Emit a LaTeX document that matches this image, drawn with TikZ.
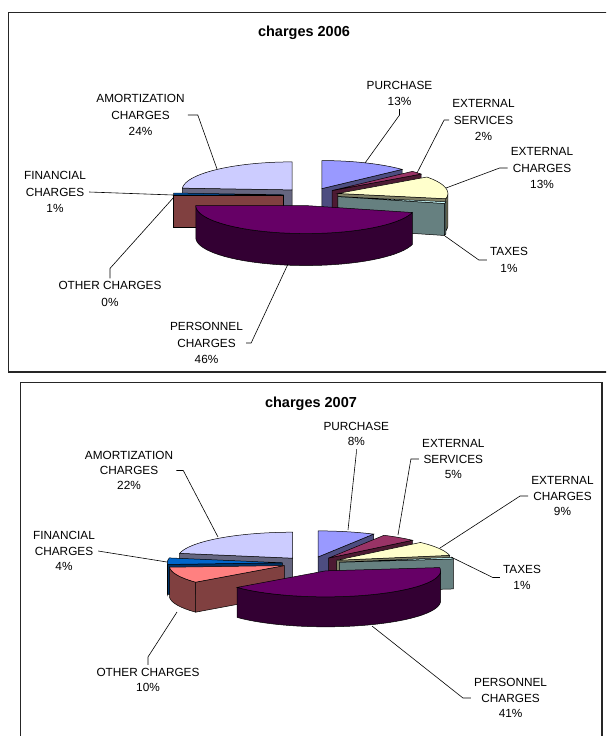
\documentclass[tikz,border=0pt]{standalone}
\usepackage{fontspec}
\setmainfont{Liberation Sans}

\definecolor{purch}{HTML}{9999FF}\definecolor{purchside}{HTML}{4D4D80}
\definecolor{servi}{HTML}{993366}\definecolor{serviside}{HTML}{4D1A33}
\definecolor{extch}{HTML}{FFFFCC}\definecolor{extchside}{HTML}{808066}
\definecolor{taxes}{HTML}{CCFFFF}\definecolor{taxesside}{HTML}{668080}
\definecolor{perso}{HTML}{660066}\definecolor{persoside}{HTML}{330033}
\definecolor{other}{HTML}{FF8080}\definecolor{otherside}{HTML}{804040}
\definecolor{finan}{HTML}{0066CC}\definecolor{finanside}{HTML}{003366}
\definecolor{amort}{HTML}{CCCCFF}\definecolor{amortside}{HTML}{666680}

\tikzset{
  lbl/.style={align=center,inner sep=3pt,font=\fontsize{11.8}{16.3}\selectfont},
  leader/.style={line width=.6pt},
  ttl/.style={font=\bfseries\fontsize{14.5}{17}\selectfont},
  chartframe/.style={line width=1.2pt,draw=black!85},
}

% #1 start angle, #2 end angle (clockwise from top), #3 explosion, #4 top, #5 side
\newcommand{\chargeslice}[5]{%
  \pgfmathsetmacro\slm{(#1+#2)/2}%
  \pgfmathsetmacro\slx{\pcx+#3*\prx*sin(\slm)}%
  \pgfmathsetmacro\sly{\pcy-#3*\pry*cos(\slm)}%
  \pgfmathsetmacro\wla{max(#1,90)}%
  \pgfmathsetmacro\wlb{min(#2,270)}%
  \ifdim #1pt>180pt
    \filldraw[fill=#5] (\slx,\sly) -- ({\slx+\prx*sin(#1)},{\sly-\pry*cos(#1)}) -- ++(0,\pdep) -- (\slx,{\sly+\pdep}) -- cycle; %start face
  \fi
  \ifdim #2pt<180pt
    \filldraw[fill=#5] (\slx,\sly) -- ({\slx+\prx*sin(#2)},{\sly-\pry*cos(#2)}) -- ++(0,\pdep) -- (\slx,{\sly+\pdep}) -- cycle; %end face
  \fi
  \ifdim \wla pt<\wlb pt
    \filldraw[fill=#5] plot[domain=\wla:\wlb,samples=40] ({\slx+\prx*sin(\x)},{\sly-\pry*cos(\x)})
      -- plot[domain=\wlb:\wla,samples=40] ({\slx+\prx*sin(\x)},{\sly+\pdep-\pry*cos(\x)}) -- cycle; %wall
  \fi
  \ifdim #1pt<#2pt
    \filldraw[fill=#4] (\slx,\sly) -- plot[domain=#1:#2,samples=40] ({\slx+\prx*sin(\x)},{\sly-\pry*cos(\x)}) -- cycle; %top
  \fi
}

\begin{document}
\begin{tikzpicture}
[x=1pt,y=-1pt,line width=.5pt]
\useasboundingbox (0,0) rectangle (606,736);
\clip (0,0) rectangle (606,736);
\fill[white] (0,0) rectangle (606,736);

% charges 2006
\draw[chartframe] (8.5,12.5) rectangle (620,372);
\node[ttl] (tit06) at (304,33) {charges 2006};

\def\pcx{311}\def\pcy{195}\def\prx{110}\def\pry{28}\def\pdep{32}
\chargeslice{273.6}{360}{.25}{amort}{amortside}
\chargeslice{0}{46.8}{.25}{purch}{purchside}
\chargeslice{46.8}{54}{.25}{servi}{serviside}
\chargeslice{54}{100.8}{.25}{extch}{extchside}
\chargeslice{100.8}{104.4}{.25}{taxes}{taxesside}
\chargeslice{270}{273.6}{.25}{finan}{finanside}
\chargeslice{270}{270}{.25}{other}{otherside}
\chargeslice{104.4}{270}{.38}{perso}{persoside}

\coordinate (a06) at (217,169);
\coordinate (f06) at (173,195);
\coordinate (o06) at (174,197);
\coordinate (p06) at (288,264);
\coordinate (u06) at (365,163);
\coordinate (s06) at (417,173);
\coordinate (e06) at (446,188);
\coordinate (t06) at (445,236);

\node[lbl] (amort06) at (140.5,115) {AMORTIZATION\\CHARGES\\24\%};
\node[lbl] (fin06) at (55,192) {FINANCIAL\\CHARGES\\1\%};
\node[lbl] (oth06) at (110,294) {OTHER CHARGES\\0\%};
\node[lbl] (pers06) at (206.5,343) {PERSONNEL\\CHARGES\\46\%};
\node[lbl] (pur06) at (399.5,93.5) {PURCHASE\\13\%};
\node[lbl] (ser06) at (483.5,120) {EXTERNAL\\SERVICES\\2\%};
\node[lbl] (ext06) at (542,168) {EXTERNAL\\CHARGES\\13\%};
\node[lbl] (tax06) at (509,260) {TAXES\\1\%};

\draw[leader] (amort06.east) -- ++(10,0) -- (a06);
\draw[leader] (fin06.east) -- (f06);
\draw[leader] (oth06.north) -- ++(0,-10) -- (o06);
\draw[leader] (pers06.east) -- ++(5,0) -- (p06);
\draw[leader] (pur06.south) -- ++(0,6) -- (u06);
\draw[leader] (ser06.west) -- ++(-5,0) -- (s06);
\draw[leader] (ext06.west) -- ++(-8,0) -- (e06);
\draw[leader] (tax06.west) -- ++(-8,0) -- (t06);

% charges 2007
\draw[chartframe] (20.5,382.5) rectangle (602,760);
\node[ttl] (tit07) at (311,404) {charges 2007};

\def\pcx{311}\def\pcy{563.2}\def\prx{115}\def\pry{26}\def\pdep{30}
\chargeslice{280.8}{360}{.25}{amort}{amortside}
\chargeslice{0}{28.8}{.25}{purch}{purchside}
\chargeslice{28.8}{46.8}{.25}{servi}{serviside}
\chargeslice{46.8}{79.2}{.25}{extch}{extchside}
\chargeslice{79.2}{82.8}{.25}{taxes}{taxesside}
\chargeslice{266.4}{280.8}{.25}{finan}{finanside}
\chargeslice{230.4}{266.4}{.25}{other}{otherside}
\chargeslice{82.8}{230.4}{.32}{perso}{persoside}

\coordinate (a07) at (218,537);
\coordinate (f07) at (167,562);
\coordinate (o07) at (177,612);
\coordinate (p07) at (372,626);
\coordinate (u07) at (348,530);
\coordinate (s07) at (398,535);
\coordinate (e07) at (440,548);
\coordinate (t07) at (451,557);

\begin{scope}[lbl/.append style={font=\fontsize{11.8}{15.3}\selectfont}]
\node[lbl] (amort07) at (129,470.5) {AMORTIZATION\\CHARGES\\22\%};
\node[lbl] (fin07) at (64,551) {FINANCIAL\\CHARGES\\4\%};
\node[lbl] (oth07) at (148,680) {OTHER CHARGES\\10\%};
\node[lbl] (pers07) at (510.6,698) {PERSONNEL\\CHARGES\\41\%};
\node[lbl] (pur07) at (356.3,434) {PURCHASE\\8\%};
\node[lbl] (ser07) at (453.3,459) {EXTERNAL\\SERVICES\\5\%};
\node[lbl] (ext07) at (562.5,496) {EXTERNAL\\CHARGES\\9\%};
\node[lbl] (tax07) at (522,577.5) {TAXES\\1\%};
\end{scope}

\draw[leader] (amort07.east) -- ++(7,0) -- (a07);
\draw[leader] (fin07.east) -- (f07);
\draw[leader] (oth07.north) -- ++(0,-8) -- (o07);
\draw[leader] (pers07.west) -- ++(-8,0) -- (p07);
\draw[leader] (pur07.south) -- ++(0,4) -- (u07);
\draw[leader] (ser07.west) -- ++(-8,0) -- (s07);
\draw[leader] (ext07.west) -- ++(-8,0) -- (e07);
\draw[leader] (tax07.west) -- ++(-7,0) -- (t07);
\end{tikzpicture}
\end{document}
